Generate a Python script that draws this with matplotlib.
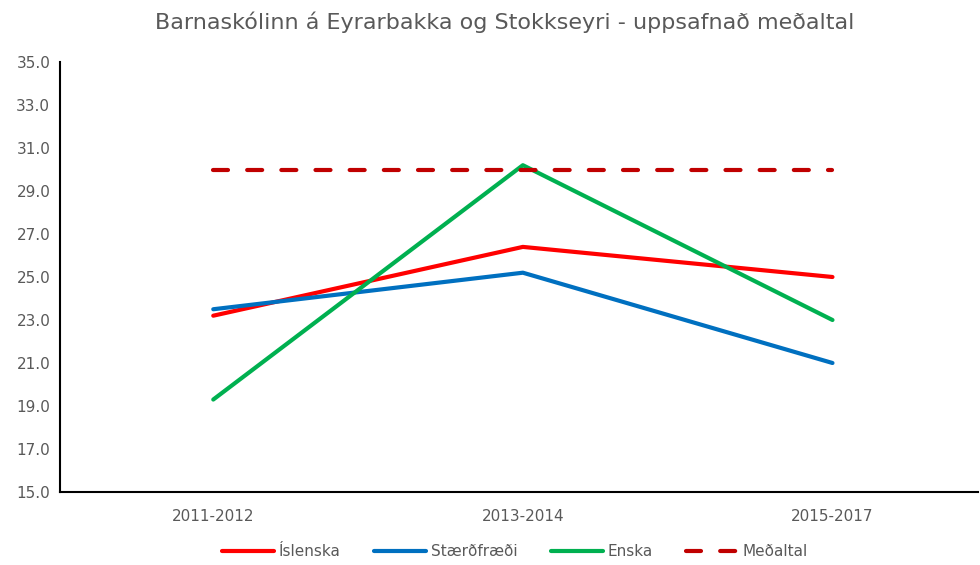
import matplotlib
matplotlib.use("Agg")
import matplotlib.pyplot as plt

categories = ["2011-2012", "2013-2014", "2015-2017"]
islenska = [23.2, 26.4, 25.0]
staerdfraedi = [23.5, 25.2, 21.0]
enska = [19.3, 30.2, 23.0]
medaltal = [30.0, 30.0, 30.0]
yticks = [15, 17, 19, 21, 23, 25, 27, 29, 31, 33, 35]

plt.rcParams['font.family'] = ['DejaVu Sans']

fig = plt.figure(figsize=(9.8, 5.65), dpi=100)
ax = fig.add_axes([60/980, 1-492/565, 918/980, 430/565])

x = range(len(categories))
ax.plot(x, islenska, color='#FF0000', lw=3, label='Íslenska', solid_capstyle='round')
ax.plot(x, staerdfraedi, color='#0070C0', lw=3, label='Stærðfræði', solid_capstyle='round')
ax.plot(x, enska, color='#00B050', lw=3, label='Enska', solid_capstyle='round')
ax.plot(x, medaltal, color='#C00000', lw=3, ls=(0, (3.6, 4.6)), dash_capstyle='round',
        label='Meðaltal')

ax.set_xlim(-0.495, 2.47)
ax.set_ylim(15, 35)
ax.set_yticks(yticks)
ax.set_yticklabels([f"{v:.1f}" for v in yticks])
ax.set_xticks(list(x))
ax.set_xticklabels(categories)
ax.tick_params(length=0, labelsize=11, colors='#595959', pad=7)
ax.tick_params(axis='x', pad=12)
for s in ['top', 'right']:
    ax.spines[s].set_visible(False)
for s in ['left', 'bottom']:
    ax.spines[s].set_linewidth(1.5)

fig.text(505/980, 1-22/565, "Barnaskólinn á Eyrarbakka og Stokkseyri - uppsafnað meðaltal",
         fontsize=16, color='#595959', ha='center', va='center')
ax.legend(loc='center', bbox_to_anchor=((515-60)/918, -(552-492)/430), ncol=4,
          frameon=False, fontsize=11, handlelength=3.4, columnspacing=2.2,
          labelcolor='#595959', handletextpad=0.3)

fig.savefig("out.png", dpi=100)
